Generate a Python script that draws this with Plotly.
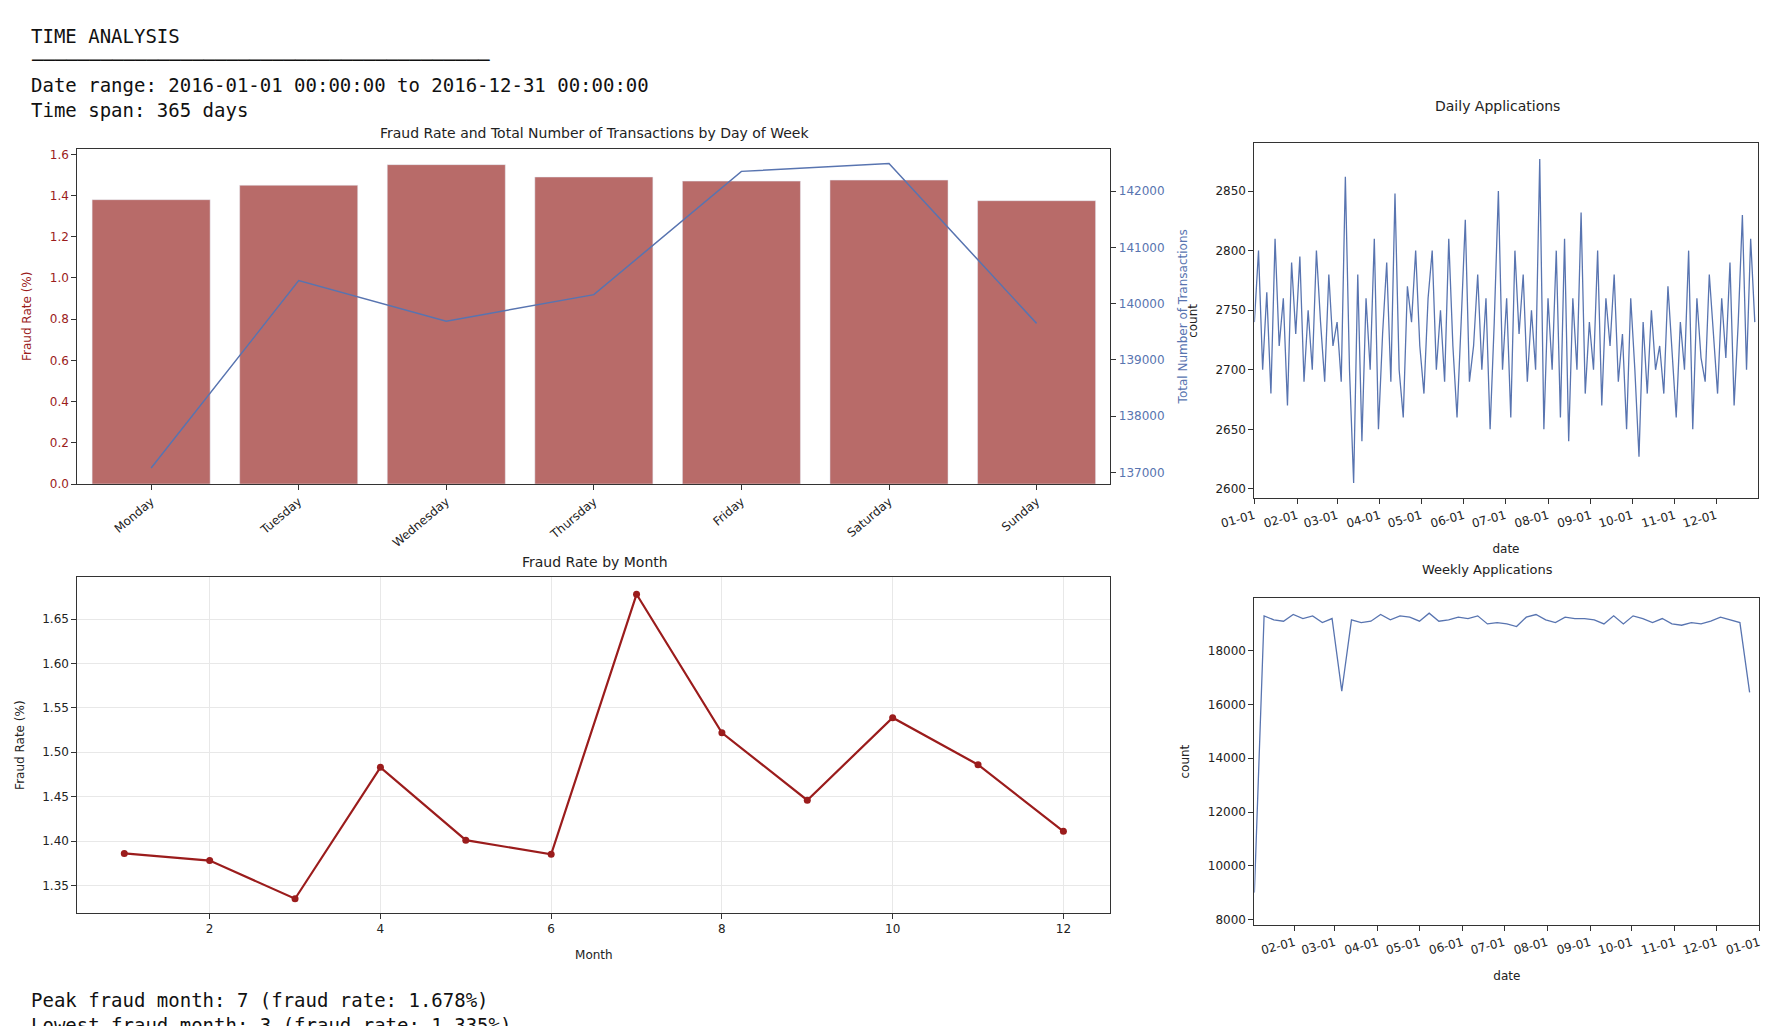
import plotly.graph_objects as go
import pandas as pd

days = ["Monday","Tuesday","Wednesday","Thursday","Friday","Saturday","Sunday"]
day_fraud = [1.38,1.45,1.55,1.49,1.47,1.475,1.375]
day_total = [137080,140410,139690,140160,142350,142490,139650]
months = list(range(1,13))
month_fraud = [1.386,1.378,1.335,1.483,1.401,1.385,1.678,1.522,1.446,1.539,1.486,1.411]

daily_counts = [2740,2800,2700,2765,2680,2810,2720,2760,2670,2790,2730,2795,2690,2750,2700,2800,2740,2690,2780,2720,
 2740,2690,2862,2700,2605,2780,2640,2760,2700,2810,2650,2730,2790,2690,2848,2700,2660,2770,2740,2800,
 2720,2680,2760,2800,2700,2750,2690,2810,2720,2660,2740,2826,2690,2720,2780,2700,2760,2650,2740,2850,
 2700,2760,2660,2800,2730,2780,2690,2750,2700,2877,2650,2760,2700,2800,2660,2810,2640,2760,2700,2832,
 2680,2740,2700,2800,2670,2760,2720,2780,2690,2730,2650,2760,2700,2627,2740,2680,2750,2700,2720,2680,
 2770,2710,2660,2740,2700,2800,2650,2760,2710,2690,2780,2730,2680,2760,2710,2790,2670,2740,2830,2700,2810,2740]
daily_dates = pd.date_range("2016-01-01", periods=len(daily_counts), freq="3D")

weekly_counts = [9000,19300,19150,19100,19350,19200,19300,19050,19200,16500,19150,19050,19100,19350,19150,19300,19250,19100,19400,19100,
 19150,19250,19200,19300,19000,19050,19000,18900,19250,19350,19150,19050,19250,19200,19200,19150,19000,19300,19000,19300,
 19200,19050,19200,19000,18950,19050,19000,19100,19250,19150,19050,16450]
weekly_dates = pd.date_range("2016-01-03", periods=len(weekly_counts), freq="7D")

red = "#b86b69"; dred = "#9b1c1c"; blue = "#5874b0"
fig = go.Figure()
fig.add_trace(go.Bar(x=days, y=day_fraud, marker_color=red, width=0.8, xaxis="x", yaxis="y"))
fig.add_trace(go.Scatter(x=days, y=day_total, mode="lines", line=dict(color=blue, width=1.5), xaxis="x", yaxis="y2"))
fig.add_trace(go.Scatter(x=months, y=month_fraud, mode="lines+markers", line=dict(color=dred, width=2.2),
                         marker=dict(size=7, color=dred), xaxis="x3", yaxis="y3"))
fig.add_trace(go.Scatter(x=daily_dates, y=daily_counts, mode="lines", line=dict(color=blue, width=1.3), xaxis="x4", yaxis="y4"))
fig.add_trace(go.Scatter(x=weekly_dates, y=weekly_counts, mode="lines", line=dict(color=blue, width=1.3), xaxis="x5", yaxis="y5"))

ax = dict(showline=True, linecolor="#333", mirror=True, ticks="outside", tickcolor="#333", zeroline=False,
          tickfont=dict(size=12, color="#222"))
fig.update_layout(
    width=1778, height=1026, showlegend=False, plot_bgcolor="white", paper_bgcolor="white",
    font=dict(family="DejaVu Sans", size=12, color="#222"),
    margin=dict(l=0, r=0, t=0, b=0, autoexpand=False),
    xaxis=dict(ax, domain=[0.039,0.62], anchor="y", tickangle=-40, range=[-0.5,6.5], showgrid=False),
    yaxis=dict(ax, domain=[0.536,0.863], range=[0,1.628], dtick=0.2, tickformat=".1f", showgrid=False,
               tickfont=dict(size=12, color=dred),
               title=dict(text="Fraud Rate (%)", font=dict(size=12, color=dred))),
    yaxis2=dict(ax, overlaying="y", side="right", anchor="x", range=[136796,142755], dtick=1000, showgrid=False, mirror=False,
                tickformat="d", tickfont=dict(size=12, color=blue),
                title=dict(text="Total Number of Transactions", font=dict(size=12, color=blue))),
    xaxis3=dict(ax, domain=[0.039,0.62], anchor="y3", range=[0.45,12.55], tickvals=[2,4,6,8,10,12],
                showgrid=True, gridcolor="#e8e8e8", title=dict(text="Month", font=dict(size=12))),
    yaxis3=dict(ax, domain=[0.118,0.445], anchor="x3", range=[1.319,1.697], dtick=0.05, tickformat=".2f",
                showgrid=True, gridcolor="#e8e8e8", title=dict(text="Fraud Rate (%)", font=dict(size=12))),
    xaxis4=dict(ax, domain=[0.701,0.984], anchor="y4", range=["2016-01-01","2016-12-31"], showgrid=False,
                tickformat="%m-%d", dtick="M1", tick0="2016-01-01", tickangle=-15, title=dict(text="date", font=dict(size=12))),
    yaxis4=dict(ax, domain=[0.522,0.868], anchor="x4", range=[2592,2890], dtick=50, showgrid=False,
                title=dict(text="count", font=dict(size=12))),
    xaxis5=dict(ax, domain=[0.701,0.985], anchor="y5", range=["2016-01-03","2017-01-01"], showgrid=False,
                tickformat="%m-%d", dtick="M1", tick0="2016-02-01", tickangle=-15, title=dict(text="date", font=dict(size=12))),
    yaxis5=dict(ax, domain=[0.106,0.425], anchor="x5", range=[7786,19966], dtick=2000, showgrid=False,
                tickformat="d", title=dict(text="count", font=dict(size=12))),
)
ann = [
    dict(text="Fraud Rate and Total Number of Transactions by Day of Week", x=0.33, y=0.868, size=14),
    dict(text="Fraud Rate by Month", x=0.33, y=0.45, size=14),
    dict(text="Daily Applications", x=0.838, y=0.895, size=14),
    dict(text="Weekly Applications", x=0.832, y=0.443, size=13),
]
for a in ann:
    fig.add_annotation(text=a["text"], x=a["x"], y=a["y"], xref="paper", yref="paper", showarrow=False,
                       xanchor="center", yanchor="bottom", font=dict(size=a["size"], color="#222"))
mono = ["TIME ANALYSIS", "─"*40, "Date range: 2016-01-01 00:00:00 to 2016-12-31 00:00:00", "Time span: 365 days"]
for i, t in enumerate(mono):
    fig.add_annotation(text=t, x=0.012, y=0.973 - i*0.024, xref="paper", yref="paper", showarrow=False,
                       xanchor="left", yanchor="middle", font=dict(family="DejaVu Sans Mono", size=19, color="#111"))
for i, t in enumerate(["Peak fraud month: 7 (fraud rate: 1.678%)", "Lowest fraud month: 3 (fraud rate: 1.335%)"]):
    fig.add_annotation(text=t, x=0.012, y=0.033 - i*0.024, xref="paper", yref="paper", showarrow=False,
                       xanchor="left", yanchor="middle", font=dict(family="DejaVu Sans Mono", size=19, color="#111"))
fig.write_html("out.html")
